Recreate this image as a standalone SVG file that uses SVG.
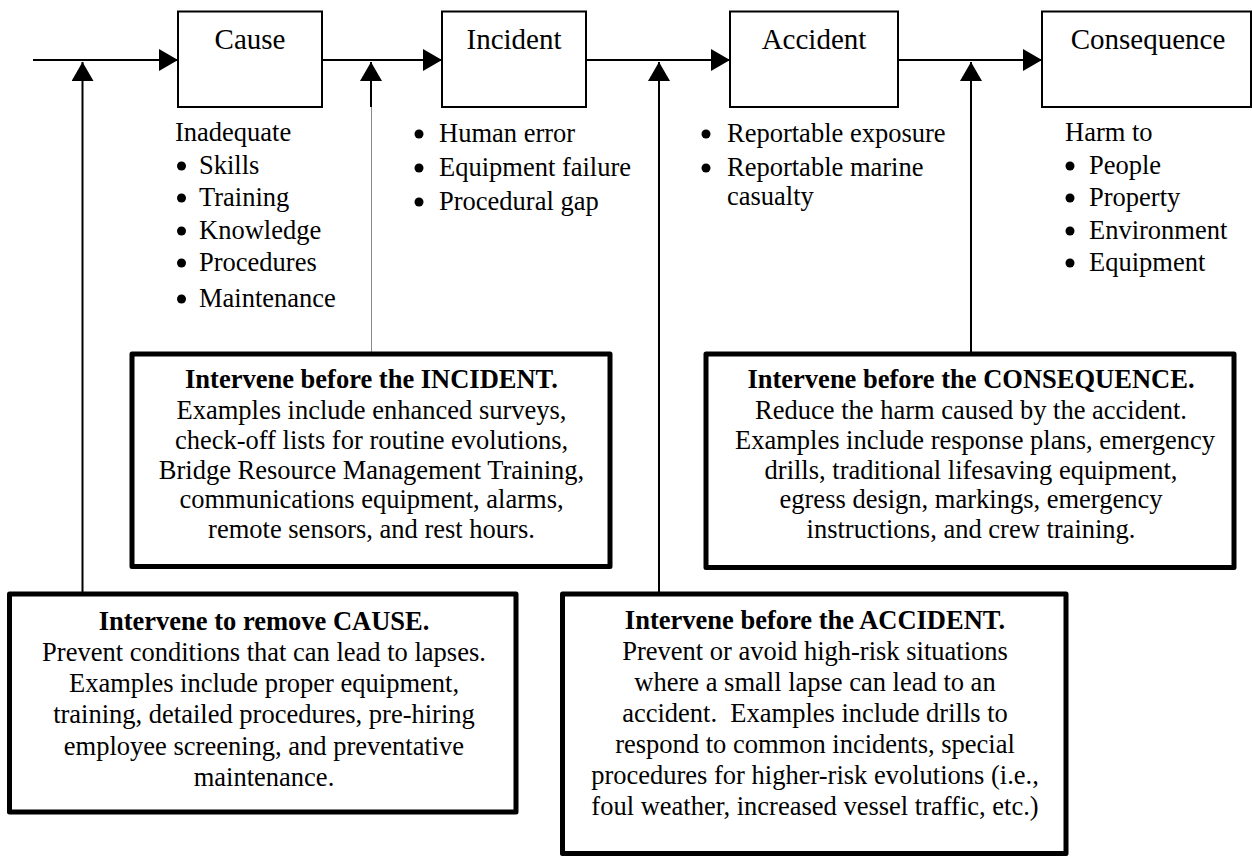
<svg xmlns="http://www.w3.org/2000/svg" width="1252" height="857" viewBox="0 0 1252 857">
<style>
text{font-family:"Liberation Serif","Times New Roman",serif;fill:#000}
.lbl{font-size:29px;text-anchor:middle}
.li{font-size:26.5px}
.bx{font-size:26.5px;text-anchor:middle}
.bd{font-weight:bold}
.box{fill:#fff;stroke:#000;stroke-width:2}
.ibox{fill:#fff;stroke:#000;stroke-width:5;stroke-linejoin:round}
.ln{fill:none;stroke:#000;stroke-width:2}
.thin{fill:none;stroke:#8a8a8a;stroke-width:1}
.b{fill:#000}
</style>
<defs>
<marker id="ah" viewBox="0 0 19 22" refX="19" refY="11" markerWidth="19" markerHeight="22" markerUnits="userSpaceOnUse" orient="auto"><path d="M0,0 L19,11 L0,22 z" fill="#000"/></marker>
</defs>
<g id="connectors">
<line class="ln" x1="33" y1="60" x2="178" y2="60" marker-end="url(#ah)"/>
<line class="ln" x1="322" y1="60" x2="442" y2="60" marker-end="url(#ah)"/>
<line class="ln" x1="586" y1="60" x2="730" y2="60" marker-end="url(#ah)"/>
<line class="ln" x1="898" y1="60" x2="1042" y2="60" marker-end="url(#ah)"/>
<line class="ln" x1="82.5" y1="594" x2="82.5" y2="62" marker-end="url(#ah)"/>
<line class="ln" x1="371" y1="107" x2="371" y2="62" marker-end="url(#ah)"/>
<line class="thin" x1="371.5" y1="107" x2="371.5" y2="353"/>
<line class="ln" x1="659" y1="594" x2="659" y2="62" marker-end="url(#ah)"/>
<line class="ln" x1="971" y1="354" x2="971" y2="62" marker-end="url(#ah)"/>
</g>
<g id="cause">
<rect class="box" x="178" y="11.5" width="144" height="95.5"/>
<text class="lbl" x="250" y="49">Cause</text>
<text class="li" x="175" y="141">Inadequate</text>
<circle class="b" cx="181.5" cy="166" r="4.5"/><text class="li" x="199" y="174">Skills</text>
<circle class="b" cx="181.5" cy="198" r="4.5"/><text class="li" x="199" y="206">Training</text>
<circle class="b" cx="181.5" cy="231" r="4.5"/><text class="li" x="199" y="239">Knowledge</text>
<circle class="b" cx="181.5" cy="263" r="4.5"/><text class="li" x="199" y="271">Procedures</text>
<circle class="b" cx="181.5" cy="299" r="4.5"/><text class="li" x="199" y="307">Maintenance</text>
</g>
<g id="incident">
<rect class="box" x="442" y="11.5" width="144" height="95.5"/>
<text class="lbl" x="514" y="49">Incident</text>
<circle class="b" cx="419" cy="134" r="4.5"/><text class="li" x="439" y="142">Human error</text>
<circle class="b" cx="419" cy="168" r="4.5"/><text class="li" x="439" y="176">Equipment failure</text>
<circle class="b" cx="419" cy="202" r="4.5"/><text class="li" x="439" y="210">Procedural gap</text>
</g>
<g id="accident">
<rect class="box" x="730" y="11.5" width="168" height="95.5"/>
<text class="lbl" x="814" y="49">Accident</text>
<circle class="b" cx="706" cy="134" r="4.5"/><text class="li" x="727" y="142">Reportable exposure</text>
<circle class="b" cx="706" cy="168" r="4.5"/><text class="li" x="727" y="176">Reportable marine</text>
<text class="li" x="727" y="205">casualty</text>
</g>
<g id="consequence">
<rect class="box" x="1042" y="11.5" width="209" height="95.5"/>
<text class="lbl" x="1148" y="49">Consequence</text>
<text class="li" x="1065" y="141">Harm to</text>
<circle class="b" cx="1070" cy="166" r="4.5"/><text class="li" x="1089" y="174">People</text>
<circle class="b" cx="1070" cy="198" r="4.5"/><text class="li" x="1089" y="206">Property</text>
<circle class="b" cx="1070" cy="231" r="4.5"/><text class="li" x="1089" y="239">Environment</text>
<circle class="b" cx="1070" cy="263" r="4.5"/><text class="li" x="1089" y="271">Equipment</text>
</g>
<g id="intervene-incident">
<rect class="ibox" x="132" y="354" width="478" height="212.5"/>
<text class="bx bd" x="371.5" y="388">Intervene before the INCIDENT.</text>
<text class="bx" x="371.5" y="419">Examples include enhanced surveys,</text>
<text class="bx" x="371.5" y="449">check-off lists for routine evolutions,</text>
<text class="bx" x="371.5" y="479">Bridge Resource Management Training,</text>
<text class="bx" x="371.5" y="508">communications equipment, alarms,</text>
<text class="bx" x="371.5" y="538">remote sensors, and rest hours.</text>
</g>
<g id="intervene-consequence">
<rect class="ibox" x="706" y="354" width="528" height="213.5"/>
<text class="bx bd" x="971" y="388">Intervene before the CONSEQUENCE.</text>
<text class="bx" x="971" y="419">Reduce the harm caused by the accident.</text>
<text class="bx" x="975" y="449">Examples include response plans, emergency</text>
<text class="bx" x="971" y="479">drills, traditional lifesaving equipment,</text>
<text class="bx" x="971" y="508">egress design, markings, emergency</text>
<text class="bx" x="971" y="538">instructions, and crew training.</text>
</g>
<g id="intervene-cause">
<rect class="ibox" x="9.5" y="594" width="506.5" height="218"/>
<text class="bx bd" x="264" y="630">Intervene to remove CAUSE.</text>
<text class="bx" x="264" y="661">Prevent conditions that can lead to lapses.</text>
<text class="bx" x="264" y="692">Examples include proper equipment,</text>
<text class="bx" x="264" y="723">training, detailed procedures, pre-hiring</text>
<text class="bx" x="264" y="755">employee screening, and preventative</text>
<text class="bx" x="264" y="786">maintenance.</text>
</g>
<g id="intervene-accident">
<rect class="ibox" x="562.5" y="594" width="503.5" height="259.5"/>
<text class="bx bd" x="815" y="629">Intervene before the ACCIDENT.</text>
<text class="bx" x="815" y="660">Prevent or avoid high-risk situations</text>
<text class="bx" x="815" y="691">where a small lapse can lead to an</text>
<text class="bx" x="815" y="722">accident.&#160; Examples include drills to</text>
<text class="bx" x="815" y="753">respond to common incidents, special</text>
<text class="bx" x="815" y="784">procedures for higher-risk evolutions (i.e.,</text>
<text class="bx" x="815" y="815">foul weather, increased vessel traffic, etc.)</text>
</g>
</svg>
